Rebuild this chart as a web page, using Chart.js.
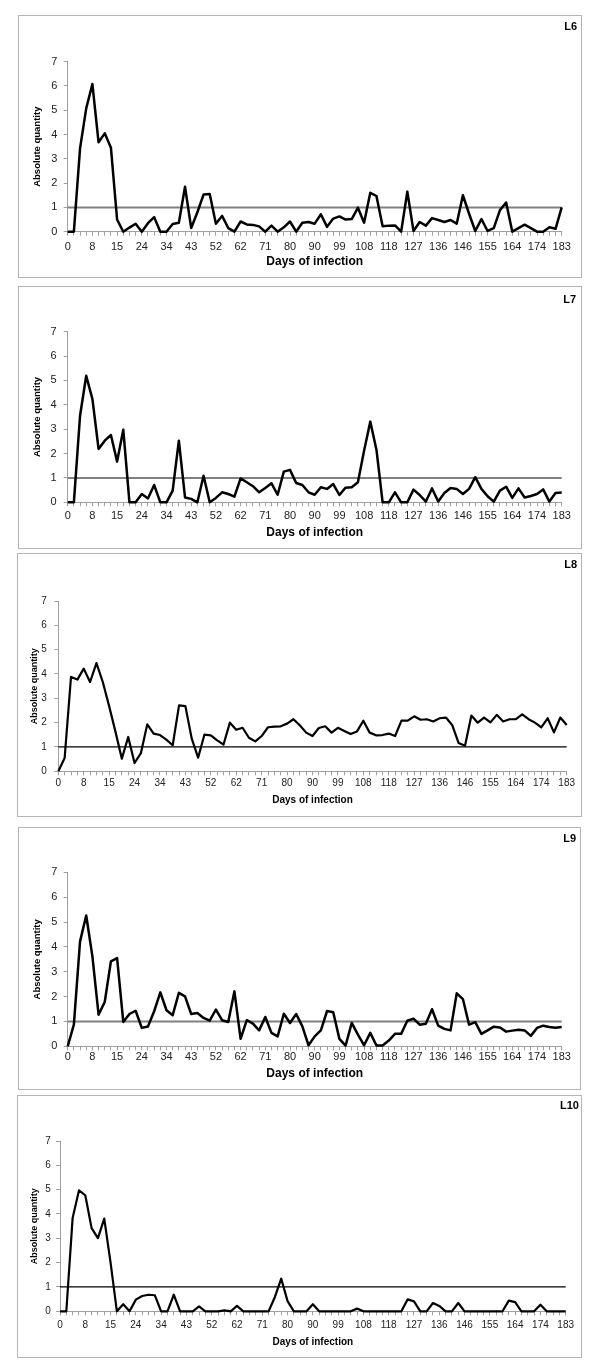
<!DOCTYPE html>
<html>
<head>
<meta charset="utf-8">
<script src="https://cdn.jsdelivr.net/npm/chart.js@4.4.1/dist/chart.umd.min.js"></script>
<style>
html,body{margin:0;padding:0;background:#fff;}
body{width:600px;height:1369px;position:relative;overflow:hidden;font-family:"Liberation Sans",Arial,sans-serif;}
.frame{position:absolute;border:1px solid #b4b4b4;box-sizing:border-box;}
.tag{position:absolute;font-weight:bold;font-size:11px;line-height:14px;color:#000;text-align:right;}
</style>
</head>
<body>
<script>
// day labels under the x axis, one for every 4th sample
dayTicks=[0,8,15,24,34,43,52,62,71,80,90,99,108,118,127,136,146,155,164,174,183];
threshold=1;

l6=[0,0,3.43,5.08,6.08,3.68,4.05,3.46,0.5,0,
0.17,0.33,0,0.35,0.6,0,0,0.32,0.37,1.85,
0.15,0.8,1.53,1.55,0.33,0.65,0.15,0,0.42,0.3,
0.28,0.22,0,0.25,0,0.18,0.42,0,0.37,0.4,
0.33,0.72,0.2,0.54,0.63,0.5,0.52,0.99,0.37,1.6,
1.47,0.22,0.25,0.26,0,1.65,0.03,0.4,0.25,0.56,
0.48,0.4,0.48,0.33,1.5,0.74,0.03,0.52,0.03,0.15,
0.89,1.2,0,0.15,0.29,0.15,0,0,0.18,0.12,
1.0];

l7=[0,0,3.55,5.19,4.24,2.19,2.53,2.76,1.67,2.98,
0,0,0.34,0.16,0.71,0,0,0.48,2.53,0.2,
0.14,0,1.09,0,0.18,0.41,0.34,0.23,0.98,0.82,
0.66,0.41,0.59,0.78,0.31,1.26,1.33,0.79,0.71,0.41,
0.31,0.62,0.55,0.75,0.3,0.6,0.62,0.82,2.12,3.31,
2.16,0,0,0.41,0,0,0.52,0.3,0.03,0.57,
0.03,0.38,0.59,0.55,0.34,0.55,1.03,0.55,0.25,0.03,
0.48,0.64,0.18,0.57,0.2,0.26,0.34,0.53,0.03,0.38,
0.4];

l8=[0,0.55,3.88,3.77,4.22,3.67,4.45,3.67,2.68,1.62,
0.52,1.41,0.34,0.75,1.93,1.55,1.49,1.3,1.07,2.71,
2.68,1.34,0.56,1.51,1.48,1.27,1.1,2.0,1.71,1.79,
1.38,1.23,1.45,1.81,1.84,1.85,1.96,2.14,1.89,1.59,
1.45,1.78,1.85,1.59,1.79,1.66,1.53,1.64,2.08,1.59,
1.48,1.49,1.55,1.45,2.08,2.08,2.26,2.12,2.14,2.05,
2.18,2.21,1.89,1.16,1.05,2.29,2.0,2.21,2.01,2.32,
2.05,2.14,2.14,2.34,2.14,2.0,1.81,2.18,1.6,2.21,
1.9];

l9=[0,0.87,4.22,5.26,3.62,1.27,1.78,3.42,3.55,0.98,
1.3,1.43,0.74,0.8,1.41,2.17,1.45,1.25,2.15,2.01,
1.3,1.34,1.14,1.03,1.48,1.05,0.98,2.21,0.3,1.05,
0.91,0.64,1.18,0.54,0.4,1.31,0.94,1.3,0.8,0.04,
0.4,0.64,1.42,1.37,0.3,0.03,0.94,0.47,0.04,0.54,
0.03,0.03,0.23,0.5,0.5,1.03,1.11,0.87,0.91,1.49,
0.83,0.7,0.64,2.13,1.9,0.87,0.97,0.5,0.64,0.79,
0.76,0.59,0.63,0.67,0.64,0.42,0.74,0.83,0.78,0.75,
0.78];

l10=[0,0,3.84,4.97,4.77,3.42,3.01,3.81,2.0,0,
0.29,0,0.48,0.63,0.68,0.66,0,0,0.68,0,
0,0,0.2,0,0,0,0.04,0,0.22,0,
0,0,0,0,0.59,1.34,0.42,0,0,0,
0.29,0,0,0,0,0,0,0.11,0,0,
0,0,0,0,0,0.49,0.41,0,0,0.34,
0.22,0,0,0.34,0,0,0,0,0,0,
0,0.44,0.38,0,0,0,0.27,0,0,0,
0];

Chart.defaults.font.family='"Liberation Sans", Arial, sans-serif';

// frame = box in page px, plot = left/top/right/bottom of the axes
panels=[
 {name:'L6',values:l6,frame:[18,15,564,263],plot:[67.7,61.7,561.7,231.7],yTitleX:37.7,xTitleY:262,xLab:15,yGap:10.4,
  tickFont:11,titleFont:12,yTitleFont:9.5,lineW:2.5,refColor:'#808080',refW:2,tag:[577,25.7]},
 {name:'L7',values:l7,frame:[18,286,564,263],plot:[67.7,331.7,561.7,502.3],yTitleX:37.7,xTitleY:532.3,xLab:13.4,yGap:11,
  tickFont:11,titleFont:12,yTitleFont:9.5,lineW:2.5,refColor:'#808080',refW:2,tag:[576,299]},
 {name:'L8',values:l8,frame:[17,553,565,264],plot:[58.3,601,566.7,771.3],yTitleX:34.7,xTitleY:800.3,xLab:12.4,yGap:11.6,
  tickFont:10,titleFont:10,yTitleFont:9,lineW:2.2,refColor:'#000',refW:1.2,tag:[577,564]},
 {name:'L9',values:l9,frame:[18,827,563,263],plot:[67.7,872.3,561.7,1046.3],yTitleX:37.7,xTitleY:1073.7,xLab:10.7,yGap:10.4,
  tickFont:11,titleFont:12,yTitleFont:9.5,lineW:2.5,refColor:'#808080',refW:2,tag:[576,838]},
 {name:'L10',values:l10,frame:[17,1095,565,263],plot:[60,1141,565.7,1311.3],yTitleX:34.7,xTitleY:1342,xLab:14,yGap:9.3,
  tickFont:10,titleFont:10,yTitleFont:9,lineW:2.2,refColor:'#000',refW:1.2,tag:[579,1105.3]}
];

function buildPanel(p){
  var fx=p.frame[0],fy=p.frame[1],fw=p.frame[2],fh=p.frame[3];
  var cv=document.createElement('canvas');
  cv.width=fw;cv.height=fh;
  cv.style.cssText='position:absolute;left:'+fx+'px;top:'+fy+'px;width:'+fw+'px;height:'+fh+'px';
  document.body.appendChild(cv);
  var box=document.createElement('div');
  box.className='frame';
  box.style.cssText='left:'+fx+'px;top:'+fy+'px;width:'+fw+'px;height:'+fh+'px';
  document.body.appendChild(box);
  var tag=document.createElement('div');
  tag.className='tag';
  tag.textContent=p.name;
  tag.style.right=(600-p.tag[0])+'px';
  tag.style.top=(p.tag[1]-7)+'px';
  document.body.appendChild(tag);

  var yW=p.plot[0]-fx, xH=fy+fh-p.plot[3];
  var tickLh=p.tickFont*1.2, xtLh=p.titleFont*1.2, ytLh=p.yTitleFont*1.2;
  var last=p.values.length-1;
  new Chart(cv,{
    type:'line',
    data:{datasets:[
      {data:p.values.map(function(v,i){return {x:i,y:v};}),borderColor:'#000',borderWidth:p.lineW,
       pointRadius:0,tension:0,borderJoinStyle:'round',clip:false},
      {data:[{x:0,y:threshold},{x:last,y:threshold}],borderColor:p.refColor,borderWidth:p.refW,pointRadius:0,clip:false}
    ]},
    options:{
      responsive:false,animation:false,devicePixelRatio:1,
      layout:{padding:{left:0,top:p.plot[1]-fy,right:fx+fw-p.plot[2],bottom:0}},
      plugins:{legend:{display:false},tooltip:{enabled:false}},
      scales:{
        x:{type:'linear',min:0,max:last,
          afterFit:function(s){s.height=xH;},
          grid:{drawOnChartArea:false,tickLength:4,color:'#a0a0a0'},
          border:{color:'#a0a0a0'},
          ticks:{stepSize:1,autoSkip:false,maxRotation:0,minRotation:0,color:'#222',
            padding:p.xLab-4-tickLh/2,font:{size:p.tickFont},
            callback:function(v){var k=Math.round(v);return k%4===0?String(dayTicks[k/4]):'';}},
          title:{display:true,text:'Days of infection',color:'#000',font:{size:p.titleFont,weight:'bold'},
            padding:{top:0,bottom:fh-(p.xTitleY-fy)-xtLh/2}}
        },
        y:{min:0,max:7,
          afterFit:function(s){s.width=yW;},
          grid:{drawOnChartArea:false,tickLength:4,color:'#a0a0a0'},
          border:{color:'#a0a0a0'},
          ticks:{stepSize:1,color:'#222',padding:p.yGap-4,font:{size:p.tickFont}},
          title:{display:true,text:'Absolute quantity',color:'#000',font:{size:p.yTitleFont,weight:'bold'},
            padding:{top:(p.yTitleX-fx)-ytLh/2,bottom:0}}
        }
      }
    }
  });
}

for(var p of panels){
  buildPanel(p);
}
</script>
</body>
</html>
